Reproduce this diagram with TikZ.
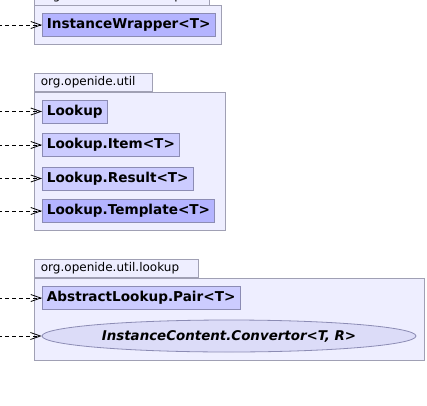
\documentclass[tikz,border=0pt]{standalone}
\usepackage{fontspec}
\setmainfont{DejaVu Sans}
\usepackage{xcolor}
\usetikzlibrary{arrows.meta,shapes.geometric}
\definecolor{pkgfill}{HTML}{EEEEFF}
\definecolor{pkgline}{HTML}{A0A0B4}
\definecolor{clsfill}{HTML}{CCCCFF}
\definecolor{clsdark}{HTML}{B4B4FF}
\definecolor{clsline}{HTML}{8C8CB4}
\definecolor{ifcfill}{HTML}{DCDCF8}

\begin{document}
\begin{tikzpicture}[x=1bp,y=-1bp,
  pkg/.style={draw=pkgline,fill=pkgfill,line width=0.8bp},
  pkgtab/.style={pkg,anchor=south west,inner xsep=6.5bp,inner ysep=0pt,
    minimum height=18.5bp,align=left,text width=#1,
    font=\fontsize{12bp}{14bp}\selectfont},
  cls/.style={draw=clsline,fill=clsfill,line width=0.8bp,anchor=west,
    inner xsep=4.5bp,inner ysep=0pt,minimum height=23bp,
    font=\fontsize{13.6bp}{15bp}\selectfont\bfseries},
  clsbold/.style={cls,fill=clsdark},
  ifc/.style={ellipse,draw=clsline,fill=ifcfill,line width=0.8bp,
    minimum width=374bp,minimum height=32bp,inner sep=0pt,
    font=\fontsize{13.4bp}{15bp}\selectfont\bfseries\itshape},
  dep/.style={line width=0.8bp,dash pattern=on 4bp off 3bp,
    -{Straight Barb[length=10bp,width=7bp]}}]
\useasboundingbox (0,0) rectangle (427,406);

% top package
\draw[pkg] (34,5) rectangle (221,44);
\node[pkgtab=162bp] (p0) at (34,5.5) {org.netbeans.lib.lookup};
\node[clsbold] (iw) at (42,25) {InstanceWrapper<T>};

% org.openide.util
\draw[pkg] (34,92) rectangle (225,230);
\node[pkgtab=105bp] (p1) at (34,92) {org.openide.util};
\node[cls] (lk) at (42,111.5) {Lookup};
\node[cls] (li) at (42,145) {Lookup.Item<T>};
\node[cls] (lr) at (42,178.5) {Lookup.Result<T>};
\node[clsbold] (lt) at (42,211) {Lookup.Template<T>};

% org.openide.util.lookup
\draw[pkg] (34,278) rectangle (424,360);
\node[pkgtab=151bp] (p2) at (34,278) {org.openide.util.lookup};
\node[cls] (ap) at (42,298) {AbstractLookup.Pair<T>};
\node[ifc] (cv) at (229,336) {InstanceContent.Convertor<T, R>};

% dependencies from the left
\coordinate (s0) at (-2,25);
\coordinate (s1) at (-2,111.5);
\coordinate (s2) at (-2,145);
\coordinate (s3) at (-2,178.5);
\coordinate (s4) at (-2,211);
\coordinate (s5) at (-2,298);
\coordinate (s6) at (-2,336);
\draw[dep] (s0) -- (iw);
\draw[dep] (s1) -- (lk);
\draw[dep] (s2) -- (li);
\draw[dep] (s3) -- (lr);
\draw[dep] (s4) -- (lt);
\draw[dep] (s5) -- (ap);
\draw[dep] (s6) -- (cv);
\end{tikzpicture}
\end{document}
